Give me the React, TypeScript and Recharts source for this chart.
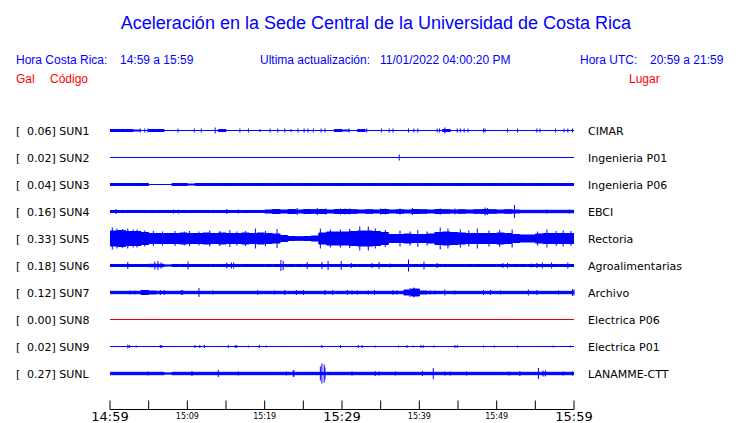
import { ComposedChart, Area, Scatter, ErrorBar, XAxis, YAxis } from 'recharts';

// Estaciones (de arriba hacia abajo)
const stationCodes = ['SUN1', 'SUN2', 'SUN3', 'SUN4', 'SUN5', 'SUN6', 'SUN7', 'SUN8', 'SUN9', 'SUNL'];
const peakGal = ['0.06', '0.02', '0.04', '0.16', '0.33', '0.18', '0.12', '0.00', '0.02', '0.27'];
const places = [
  'CIMAR',
  'Ingenieria P01',
  'Ingenieria P06',
  'EBCI',
  'Rectoria',
  'Agroalimentarias',
  'Archivo',
  'Electrica P06',
  'Electrica P01',
  'LANAMME-CTT',
];
const traceColors = ['#0000ff', '#0000ff', '#0000ff', '#0000ff', '#0000ff', '#0000ff', '#0000ff', '#e00000', '#0000ff', '#0000ff'];

// minutos desde 14:59
const minutes = [
  0, 1, 2, 3, 4, 5, 6, 7, 8, 9, 10, 11, 12, 13, 14, 15, 16, 17, 18, 19, 20, 21, 22, 23, 24, 25, 26, 27, 28, 29, 30,
  31, 32, 33, 34, 35, 36, 37, 38, 39, 40, 41, 42, 43, 44, 45, 46, 47, 48, 49, 50, 51, 52, 53, 54, 55, 56, 57, 58, 59, 60,
];
const tickMinutes = [0, 5, 10, 15, 20, 25, 30, 35, 40, 45, 50, 55, 60];
const tickLabels: Record<number, string> = {
  0: '14:59',
  10: '15:09',
  20: '15:19',
  30: '15:29',
  40: '15:39',
  50: '15:49',
  60: '15:59',
};
const bigTicks = [0, 30, 60];

// envolvente por minuto (semi-amplitud)
const sun1Env = [1, 1, 1, 0.5, 0, 1, 1, 0, 0, 0, 0, 0, 0, 0, 1, 0, 0, 0, 0, 0, 0, 0, 0, 0, 0, 0, 0, 0, 0, 1, 0.5, 0, 1, 0, 0, 0, 0, 0, 0, 0, 0, 0, 0, 1, 0, 0, 0, 0, 0, 0, 0, 0, 0, 0, 0, 0, 0, 0, 0, 0, 0];
const sun2Env = [0, 0, 0, 0, 0, 0, 0, 0, 0, 0, 0, 0, 0, 0, 0, 0, 0, 0, 0, 0, 0, 0, 0, 0, 0, 0, 0, 0, 0, 0, 0, 0, 0, 0, 0, 0, 0, 0, 0, 0, 0, 0, 0, 0, 0, 0, 0, 0, 0, 0, 0, 0, 0, 0, 0, 0, 0, 0, 0, 0, 0];
const sun3Env = [1, 1, 1, 1, 1, 0, 0, 0, 1, 1, 0.5, 1, 1, 1, 1, 1, 1, 1, 1, 1, 1, 1, 1, 1, 1, 1, 1, 1, 1, 1, 1, 1, 1, 1, 1, 1, 1, 1, 1, 1, 1, 1, 1, 1, 1, 1, 1, 1, 1, 1, 1, 1, 1, 1, 1, 1, 1, 1, 1, 1, 1];
const sun4Env = [1, 1, 1, 1, 1, 1, 1, 1, 1, 1, 1, 1, 1, 1, 1, 1, 1, 1, 1, 1, 1.5, 2, 1.5, 2, 1.5, 2, 1.8, 2, 1.5, 2, 2, 1.8, 1.5, 1.8, 1.5, 2, 1.5, 1.8, 1.5, 2, 1.8, 1.5, 2, 1.8, 1.5, 1.8, 1.5, 1.8, 2, 1.8, 1.5, 1.8, 1.5, 1.2, 1.2, 1.2, 1.2, 1.2, 1.2, 1.2, 1.2];
const sun5Env = [7.5, 8, 7, 7, 6, 5, 5, 5, 5, 5.5, 5, 5, 5.5, 5, 5.5, 5, 5, 5.5, 5, 5.5, 5, 4.5, 3, 2, 1.8, 2, 2.5, 5.5, 6.5, 6.5, 6.5, 7, 7.5, 7.5, 7, 6, 4, 4, 4.5, 4, 4, 4.5, 6, 6.5, 6, 5.5, 5, 5, 5, 5, 5.5, 5, 4, 3.5, 3.5, 4.5, 5, 5, 5, 5, 5];
const sun6Env = [1, 1, 1, 1, 1, 1.2, 1.2, 0.6, 1, 1, 1, 1, 1, 1, 1, 1, 1, 1, 1, 1, 1, 1, 1, 1, 1, 1, 1, 1, 1, 1, 1, 1, 1, 1, 1, 1, 1, 1, 1, 1, 1, 1, 1, 1, 1, 1, 1, 1, 1, 1, 1, 1, 1, 1, 1, 1, 1, 1, 1, 1, 1];
const sun7Env = [1.2, 1.2, 1.2, 1.2, 2, 1.5, 1.2, 1.2, 1.2, 1.2, 1.2, 1.2, 1.2, 1.2, 1.2, 1.2, 1.2, 1.2, 1.2, 1.2, 1.2, 1.2, 1.2, 1.2, 1.2, 1.2, 1.2, 1.2, 1.2, 1.2, 1.2, 1.2, 1.2, 1.2, 1.2, 1.2, 1.2, 1.2, 2.5, 3.5, 1.5, 1.2, 1.2, 1.2, 1.2, 1.2, 1.2, 1.2, 1.2, 1.2, 1.2, 1.2, 1.2, 1.2, 1.2, 1.2, 1.2, 1.2, 1.2, 1.2, 1.2];
const sun8Env = [0, 0, 0, 0, 0, 0, 0, 0, 0, 0, 0, 0, 0, 0, 0, 0, 0, 0, 0, 0, 0, 0, 0, 0, 0, 0, 0, 0, 0, 0, 0, 0, 0, 0, 0, 0, 0, 0, 0, 0, 0, 0, 0, 0, 0, 0, 0, 0, 0, 0, 0, 0, 0, 0, 0, 0, 0, 0, 0, 0, 0];
const sun9Env = [0, 0, 0, 0, 0, 0, 0, 0, 0, 0, 0, 0, 0, 0, 0, 0, 0, 0, 0, 0, 0, 0, 0, 0, 0, 0, 0, 0, 0, 0, 0, 0, 0, 0, 0, 0, 0, 0, 0, 0, 0, 0, 0, 0, 0, 0, 0, 0, 0, 0, 0, 0, 0, 0, 0, 0, 0, 0, 0, 0, 0];
const sunLEnv = [1.2, 1.2, 1.2, 1.2, 1.2, 1.2, 1.2, 0.6, 1.2, 1.2, 1.2, 1.2, 1.2, 1.2, 1.2, 1.2, 1.2, 1.2, 1.2, 1.2, 1.2, 1.2, 1.2, 1.2, 1.2, 1.2, 1.2, 1.2, 1.2, 1.2, 1.2, 1.2, 1.2, 1.2, 1.2, 1.2, 1.2, 1.2, 1.2, 1.2, 1.2, 1.2, 1.2, 1.2, 1.2, 1.2, 1.2, 1.2, 1.2, 1.2, 1.2, 1.2, 1.2, 1.2, 1.2, 1.2, 1.2, 1.2, 1.2, 1.2, 1.2];

// picos aislados [minuto, semi-amplitud]
const sun1Spikes = [
  [3.9, 2], [4.5, 2], [4.9, 2], [8.8, 2], [10.9, 2], [11.8, 2], [13.6, 3], [16.8, 2], [17.9, 2], [19.4, 1.5], [20.7, 2],
  [21.7, 2], [22.6, 2], [23.4, 1.5], [24.3, 2], [25.1, 2], [25.6, 2], [26.3, 2], [27.3, 2], [27.8, 2], [30.9, 2],
  [33.2, 2], [35.1, 2], [36.1, 2], [36.6, 2], [38.6, 2], [39.3, 2], [39.8, 2], [42.3, 2], [42.6, 2], [43.3, 3],
  [44.9, 2], [45.3, 2], [45.8, 2], [46.3, 2], [48.3, 2], [48.5, 2], [51.4, 2], [52.7, 2], [55.2, 2], [55.6, 2],
  [57.6, 2], [58.7, 2], [59.2, 2], [59.8, 2],
];
const sun2Spikes = [[37.4, 3]];
const sun3Spikes: number[][] = [];
const sun4Spikes = [
  [0.8, 2.5], [8.2, 2], [8.9, 2], [15.1, 2.5], [16.6, 2], [24.2, 3.5], [26.8, 3.5], [27.9, 3], [29.8, 3], [30.4, 3],
  [31.0, 3], [35.0, 3], [35.6, 3], [37.5, 3], [39.1, 3.5], [42.7, 3], [44.6, 3], [48.5, 4], [48.8, 3.5], [52.3, 6.5],
  [56.5, 2], [59.4, 2],
];
const sun5Spikes = [
  [0.3, 11], [0.9, 10], [1.6, 9.5], [2.3, 10], [3.0, 9], [3.5, 9], [4.5, 8], [5.6, 7.5], [6.8, 7], [8.4, 7.5],
  [9.6, 7], [10.3, 7.5], [11.5, 7], [12.9, 8], [14.2, 7.5], [15.5, 8.5], [16.4, 7], [17.5, 7.5], [18.8, 10],
  [20.1, 7.5], [21.6, 9.5], [27.2, 10], [28.5, 9], [29.8, 9], [31.0, 9.5], [32.3, 12], [33.4, 12], [34.3, 10],
  [35.6, 8.5], [37.5, 8], [38.8, 7], [39.8, 8.5], [41.0, 7], [42.7, 11], [43.7, 10], [45.3, 9], [46.4, 8],
  [47.5, 10], [49.0, 8], [50.4, 8.5], [52.0, 9], [55.3, 7], [56.5, 9], [57.7, 7.5], [58.6, 8], [59.6, 7.5],
];
const sun6Spikes = [
  [2.3, 3.5], [5.8, 4], [6.2, 4.5], [6.6, 3], [10.1, 4], [15.1, 3], [15.7, 3], [16.0, 3], [22.1, 5.5], [22.4, 4.5],
  [25.5, 3.5], [27.4, 3.5], [28.2, 4.5], [29.9, 4.5], [31.2, 2.5], [33.9, 2.5], [34.8, 3.5], [36.2, 2], [38.6, 6],
  [40.6, 4], [42.3, 2.5], [50.8, 2.5], [51.4, 2.5], [54.5, 2], [55.2, 2.5], [55.9, 3], [57.1, 3], [59.2, 3],
];
const sun7Spikes = [
  [2.6, 2], [3.2, 2], [6.5, 2.5], [7.0, 2.5], [9.2, 2.5], [9.4, 2.5], [11.5, 4.5], [13.3, 2], [19.1, 2.5], [21.3, 2],
  [22.6, 2.5], [24.1, 2.5], [25.0, 2.5], [27.8, 2.5], [28.8, 2.5], [30.7, 2.5], [31.3, 2], [32.0, 2], [33.4, 2],
  [34.2, 2.5], [36.6, 2.5], [37.1, 2], [38.8, 4.5], [39.3, 5], [41.4, 2], [42.0, 2], [43.3, 3], [44.6, 2],
  [48.3, 2.5], [49.2, 2.5], [50.5, 2], [54.1, 3], [55.2, 2.5], [58.0, 2], [59.8, 3.5], [60, 3],
];
const sun8Spikes: number[][] = [];
const sun9Spikes = [
  [2.3, 2], [2.5, 1.5], [3.4, 1], [6.5, 1.5], [6.7, 1.5], [11.0, 1.5], [11.6, 1.5], [12.2, 1.5], [15.3, 1.5],
  [16.2, 1.5], [16.4, 1.5], [17.9, 1], [19.3, 1.5], [20.2, 1], [27.4, 1.5], [29.8, 1.5], [32.1, 1.5], [32.6, 1.5],
  [34.3, 1], [37.3, 1], [38.4, 1.5], [39.2, 1], [40.2, 1.5], [40.5, 1.5], [41.9, 1], [44.6, 1.5], [44.9, 1.5],
  [48.3, 1], [49.7, 1], [52.7, 1], [57.3, 1], [59.5, 1],
];
const sunLSpikes = [
  [4.9, 2], [10.6, 2.5], [14.0, 3.5], [16.6, 2], [22.8, 2], [23.7, 3.5], [23.8, 3], [27.2, 7], [27.4, 10], [27.7, 9],
  [27.8, 6], [31.3, 2], [34.3, 2.5], [34.8, 2], [36.9, 2], [40.4, 2.5], [41.8, 5.5], [43.3, 2], [44.0, 2], [46.1, 2],
  [51.6, 2], [53.0, 2.5], [55.4, 5.5], [56.0, 3], [56.3, 3], [58.6, 2], [59.8, 2],
];

const envelopes = [sun1Env, sun2Env, sun3Env, sun4Env, sun5Env, sun6Env, sun7Env, sun8Env, sun9Env, sunLEnv];
const spikes = [sun1Spikes, sun2Spikes, sun3Spikes, sun4Spikes, sun5Spikes, sun6Spikes, sun7Spikes, sun8Spikes, sun9Spikes, sunLSpikes];

const ROW = 27; // separación entre trazas (unidades del eje Y)
const Y_MAX = 306;
const rowCenter = (i: number) => ROW * (i + 1);

const chartData = minutes.map((t, k) => {
  const row: Record<string, number | number[]> = { t };
  envelopes.forEach((env, i) => {
    row['s' + i] = [rowCenter(i) - env[k], rowCenter(i) + env[k]];
  });
  return row;
});

const spikeData = spikes.map((list, i) => list.map(([t, a]) => ({ t, y: rowCenter(i), amp: a })));

const LABEL_FONT = '"DejaVu Sans", sans-serif';
const HEAD_FONT = '"Liberation Sans", Arial, sans-serif';

function LeftTick({ x, y, payload }: any) {
  const i = Math.round(payload.value / ROW) - 1;
  return (
    <g fontFamily={LABEL_FONT} fontSize={11} fill="#000">
      <text x={x - 94} y={y + 4}>[</text>
      <text x={x - 83} y={y + 4}>{`${peakGal[i]}] ${stationCodes[i]}`}</text>
    </g>
  );
}

function RightTick({ x, y, payload }: any) {
  const i = Math.round(payload.value / ROW) - 1;
  return (
    <text x={x + 14} y={y + 4} fontFamily={LABEL_FONT} fontSize={11} fill="#000">
      {places[i]}
    </text>
  );
}

function TimeTick({ x, y, payload }: any) {
  const v = payload.value as number;
  const label = tickLabels[v];
  const big = bigTicks.includes(v);
  return (
    <g>
      <line x1={x} x2={x} y1={y - 9} y2={y} stroke="#000" strokeWidth={1} />
      {label && (
        <text
          x={x}
          y={big ? y + 11.5 : y + 9}
          textAnchor="middle"
          fontFamily={LABEL_FONT}
          fontSize={big ? 13 : 8}
          fill="#000"
        >
          {label}
        </text>
      )}
    </g>
  );
}

const noDot = () => <g />;

export default function App() {
  return (
    <div style={{ position: 'absolute', left: 0, top: 0, width: 740, height: 423, background: '#fff' }}>
      <ComposedChart
        width={740}
        height={423}
        data={chartData}
        margin={{ top: 103.5, right: 0, bottom: 0, left: 0 }}
      >
        <XAxis
          dataKey="t"
          type="number"
          domain={[0, 60]}
          ticks={tickMinutes}
          height={13.5}
          tickSize={0}
          tickMargin={0}
          tickLine={false}
          axisLine={{ stroke: '#000', strokeWidth: 1 }}
          tick={<TimeTick />}
          interval={0}
          allowDataOverflow
        />
        <YAxis
          type="number"
          domain={[0, Y_MAX]}
          reversed
          width={110}
          ticks={stationCodes.map((_, i) => rowCenter(i))}
          tickSize={0}
          tickMargin={0}
          tickLine={false}
          axisLine={false}
          tick={<LeftTick />}
          interval={0}
          allowDataOverflow
        />
        <YAxis
          yAxisId="right"
          orientation="right"
          type="number"
          domain={[0, Y_MAX]}
          reversed
          width={166}
          ticks={stationCodes.map((_, i) => rowCenter(i))}
          tickSize={0}
          tickMargin={0}
          tickLine={false}
          axisLine={false}
          tick={<RightTick />}
          interval={0}
          allowDataOverflow
        />
        {stationCodes.map((code, i) => (
          <Area
            key={code}
            dataKey={'s' + i}
            type="stepAfter"
            stroke={traceColors[i]}
            strokeWidth={1}
            fill={traceColors[i]}
            fillOpacity={1}
            dot={false}
            activeDot={false}
            isAnimationActive={false}
          />
        ))}
        {stationCodes.map((code, i) => (
          <Scatter
            key={'sp' + code}
            data={spikeData[i]}
            dataKey="y"
            shape={noDot}
            isAnimationActive={false}
          >
            <ErrorBar dataKey="amp" direction="y" width={0} stroke={traceColors[i]} strokeWidth={1} isAnimationActive={false} />
          </Scatter>
        ))}
      </ComposedChart>
      <svg width={740} height={100} style={{ position: 'absolute', left: 0, top: 0 }}>
        <text x={376} y={29} textAnchor="middle" fontFamily={HEAD_FONT} fontSize={18} fill="#0000ff">
          Aceleración en la Sede Central de la Universidad de Costa Rica
        </text>
        <g fontFamily={HEAD_FONT} fontSize={12} fill="#0000ff">
          <text x={16} y={64}>Hora Costa Rica:</text>
          <text x={120} y={64}>14:59 a 15:59</text>
          <text x={260} y={64}>Ultima actualización:</text>
          <text x={380} y={64}>11/01/2022 04:00:20 PM</text>
          <text x={580} y={64}>Hora UTC:</text>
          <text x={650} y={64}>20:59 a 21:59</text>
        </g>
        <g fontFamily={HEAD_FONT} fontSize={12} fill="#ff0000">
          <text x={16} y={83}>Gal</text>
          <text x={50} y={83}>Código</text>
          <text x={629} y={83}>Lugar</text>
        </g>
      </svg>
    </div>
  );
}
